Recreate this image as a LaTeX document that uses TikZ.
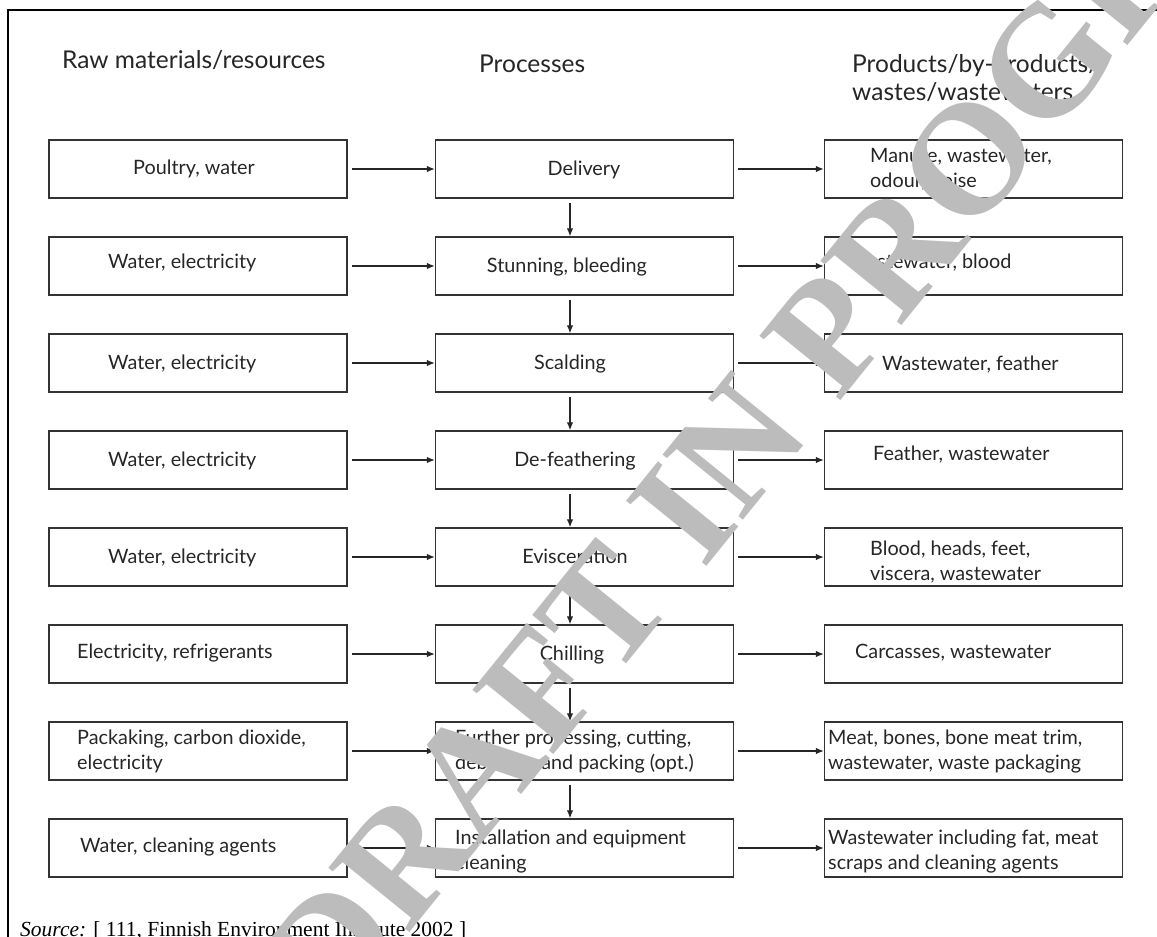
\documentclass[tikz,border=0pt]{standalone}
\usepackage{fontspec}
\setmainfont{Lato}
\newfontfamily\fonteserif{Liberation Serif}
\usetikzlibrary{arrows.meta}
\definecolor{cinzamarca}{RGB}{188,188,188}

\begin{document}
\begin{tikzpicture}[x=1pt,y=-1pt,
    caixa/.style={draw=black!80, line width=1.3pt, minimum width=298pt, minimum height=58pt, inner sep=0pt},
    txt/.style={font=\fontsize{19.8}{25}\selectfont, text=black!85, align=left, inner sep=0pt, anchor=base west},
    txtc/.style={txt, anchor=base},
    titulo/.style={font=\fontsize{24.5}{28}\selectfont, text=black!85, align=left, inner sep=0pt, anchor=base west},
    seta/.style={line width=1.2pt, draw=black!85, -{Latex[length=8pt,width=6.5pt]}}]

    \useasboundingbox (0,0) rectangle (1157,937);
    \clip (0,0) rectangle (1157,937);

    % Moldura
    \draw[line width=2.5pt] (8,937) -- (8,10) -- (1157,10);

    % Titulos
    \node[titulo] (tRaw) at (62,68) {Raw materials/resources};
    \node[titulo] (tProc) at (479,72) {Processes};
    \node[titulo] (tProd) at (852,100) {Products/by-products/\\wastes/wastewaters};

    % Caixas - recursos
    \node[caixa] (r1) at (198,169) {};
    \node[caixa] (r2) at (198,266) {};
    \node[caixa] (r3) at (198,363) {};
    \node[caixa] (r4) at (198,460) {};
    \node[caixa] (r5) at (198,557) {};
    \node[caixa] (r6) at (198,654) {};
    \node[caixa] (r7) at (198,751) {};
    \node[caixa] (r8) at (198,848) {};

    % Caixas - processos
    \node[caixa] (m1) at (584.5,169) {};
    \node[caixa] (m2) at (584.5,266) {};
    \node[caixa] (m3) at (584.5,363) {};
    \node[caixa] (m4) at (584.5,460) {};
    \node[caixa] (m5) at (584.5,557) {};
    \node[caixa] (m6) at (584.5,654) {};
    \node[caixa] (m7) at (584.5,751) {};
    \node[caixa] (m8) at (584.5,848) {};

    % Caixas - produtos
    \node[caixa] (p1) at (973.5,169) {};
    \node[caixa] (p2) at (973.5,266) {};
    \node[caixa] (p3) at (973.5,363) {};
    \node[caixa] (p4) at (973.5,460) {};
    \node[caixa] (p5) at (973.5,557) {};
    \node[caixa] (p6) at (973.5,654) {};
    \node[caixa] (p7) at (973.5,751) {};
    \node[caixa] (p8) at (973.5,848) {};

    % Textos - recursos
    \node[txt] (r1t) at (133,174) {Poultry, water};
    \node[txt] (r2t) at (108,268) {Water, electricity};
    \node[txt] (r3t) at (108,369) {Water, electricity};
    \node[txt] (r4t) at (108,466) {Water, electricity};
    \node[txt] (r5t) at (108,563) {Water, electricity};
    \node[txt] (r6t) at (77,658) {Electricity, refrigerants};
    \node[txt] (r7t) at (77,769) {Packaking, carbon dioxide,\\electricity};
    \node[txt] (r8t) at (80,852) {Water, cleaning agents};

    % Textos - processos
    \node[txtc] (m1t) at (584,175) {Delivery};
    \node[txtc] (m2t) at (567,272) {Stunning, bleeding};
    \node[txtc] (m3t) at (570,369) {Scalding};
    \node[txtc] (m4t) at (575,466) {De-feathering};
    \node[txtc] (m5t) at (575,563) {Evisceration};
    \node[txtc] (m6t) at (572,660) {Chilling};
    \node[txt] (m7t) at (455,769) {Further processing, cutting,\\deboning and packing (opt.)};
    \node[txt] (m8t) at (455,869) {Installation and equipment\\cleaning};

    % Textos - produtos
    \node[txt] (p1t) at (870,187) {Manure, wastewater,\\odour, noise};
    \node[txt] (p2t) at (848,268) {Wastewater, blood};
    \node[txt] (p3t) at (882,370) {Wastewater, feather};
    \node[txt] (p4t) at (873,460) {Feather, wastewater};
    \node[txt] (p5t) at (870,580) {Blood, heads, feet,\\viscera, wastewater};
    \node[txt] (p6t) at (855,658) {Carcasses, wastewater};
    \node[txt] (p7t) at (828,769) {Meat, bones, bone meat trim,\\wastewater, waste packaging};
    \node[txt] (p8t) at (828,869) {Wastewater including fat, meat\\scraps and cleaning agents};

    % Setas - entradas
    \draw[seta] ([xshift=4]r1.east) -- (m1.west);
    \draw[seta] ([xshift=4]r2.east) -- (m2.west);
    \draw[seta] ([xshift=4]r3.east) -- (m3.west);
    \draw[seta] ([xshift=4]r4.east) -- (m4.west);
    \draw[seta] ([xshift=4]r5.east) -- (m5.west);
    \draw[seta] ([xshift=4]r6.east) -- (m6.west);
    \draw[seta] ([xshift=4]r7.east) -- (m7.west);
    \draw[seta] ([xshift=4]r8.east) -- (m8.west);

    % Setas - saidas
    \draw[seta] ([xshift=4]m1.east) -- (p1.west);
    \draw[seta] ([xshift=4]m2.east) -- (p2.west);
    \draw[seta] ([xshift=4]m3.east) -- (p3.west);
    \draw[seta] ([xshift=4]m4.east) -- (p4.west);
    \draw[seta] ([xshift=4]m5.east) -- (p5.west);
    \draw[seta] ([xshift=4]m6.east) -- (p6.west);
    \draw[seta] ([xshift=4]m7.east) -- (p7.west);
    \draw[seta] ([xshift=4]m8.east) -- (p8.west);

    % Setas - sequencia
    \draw[seta] ([xshift=-14.5,yshift=-4]m1.south) -- ([xshift=-14.5]m2.north);
    \draw[seta] ([xshift=-14.5,yshift=-4]m2.south) -- ([xshift=-14.5]m3.north);
    \draw[seta] ([xshift=-14.5,yshift=-4]m3.south) -- ([xshift=-14.5]m4.north);
    \draw[seta] ([xshift=-14.5,yshift=-4]m4.south) -- ([xshift=-14.5]m5.north);
    \draw[seta] ([xshift=-14.5,yshift=-4]m5.south) -- ([xshift=-14.5]m6.north);
    \draw[seta] ([xshift=-14.5,yshift=-4]m6.south) -- ([xshift=-14.5]m7.north);
    \draw[seta] ([xshift=-14.5,yshift=-4]m7.south) -- ([xshift=-14.5]m8.north);

    % Fonte
    \node[anchor=base west, inner sep=0pt, font=\fonteserif\fontsize{21.5}{24}\selectfont] (fonte) at (20,936)
        {\textit{Source:} [ 111, Finnish Environment Institute 2002 ]};

    % Marca d'agua
    \node[rotate=51, scale=3.95, inner sep=0pt, text=cinzamarca, font=\fonteserif\bfseries\fontsize{40}{40}\selectfont] (marca) at (815,350)
        {DRAFT IN PROGRESS};
\end{tikzpicture}
\end{document}
